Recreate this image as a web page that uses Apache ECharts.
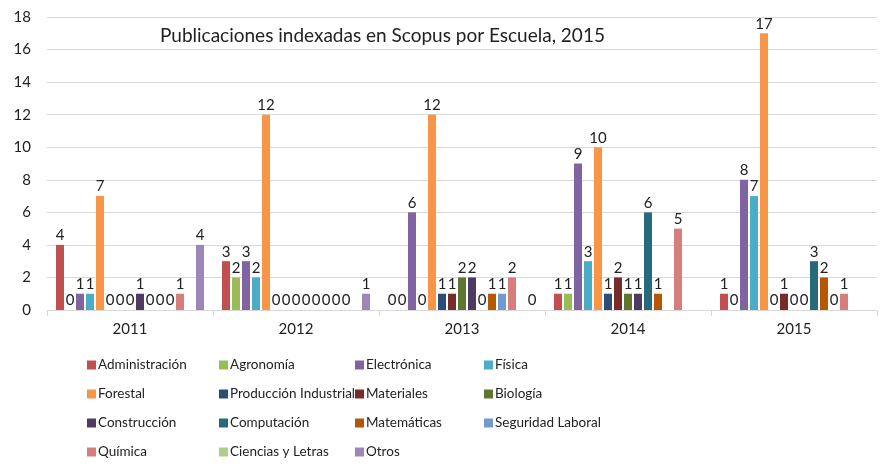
<!DOCTYPE html>
<html>
<head>
<meta charset="utf-8">
<script src="https://cdn.jsdelivr.net/npm/echarts@6/dist/echarts.min.js"></script>
<style>
  html, body { margin: 0; padding: 0; background: #fff; }
  #chart { width: 883px; height: 471px; }
</style>
</head>
<body>
<div id="chart"></div>
<script>
// años
var years = ['2011', '2012', '2013', '2014', '2015'];
var yTicks = { min: 0, max: 18, interval: 2 };

// publicaciones por escuela (null = sin dato)
var administracion  = [4, 3, 0, 1, 1];
var agronomia       = [0, 2, 0, 1, 0];
var electronica     = [1, 3, 6, 9, 8];
var fisica          = [1, 2, 0, 3, 7];
var forestal        = [7, 12, 12, 10, 17];
var produccion      = [0, 0, 1, 1, 0];
var materiales      = [0, 0, 1, 2, 1];
var biologia        = [0, 0, 2, 1, 0];
var construccion    = [1, 0, 2, 1, 0];
var computacion     = [0, 0, 0, 6, 3];
var matematicas     = [0, 0, 1, 1, 2];
var seguridad       = [0, 0, 1, null, 0];
var quimica         = [1, 0, 2, 5, 1];
var cienciasLetras  = [null, null, null, null, null];
var otros           = [4, 1, 0, null, null];

var escuelas = [
  ['Administración', administracion, '#C0504D'],
  ['Agronomía', agronomia, '#9BBB59'],
  ['Electrónica', electronica, '#8064A2'],
  ['Física', fisica, '#4BACC6'],
  ['Forestal', forestal, '#F79646'],
  ['Producción Industrial', produccion, '#2C4D75'],
  ['Materiales', materiales, '#772C2A'],
  ['Biología', biologia, '#5F7530'],
  ['Construcción', construccion, '#4D3B62'],
  ['Computación', computacion, '#276A7C'],
  ['Matemáticas', matematicas, '#B65708'],
  ['Seguridad Laboral', seguridad, '#729ACA'],
  ['Química', quimica, '#D47F7D'],
  ['Ciencias y Letras', cienciasLetras, '#B3CC86'],
  ['Otros', otros, '#9C87B8']
];

var font = 'Lato, "Open Sans", sans-serif';

var series = escuelas.map(function (e) {
  return {
    name: e[0],
    type: 'bar',
    data: e[1],
    barWidth: 8,
    barGap: '25%',
    itemStyle: { color: e[2] },
    label: {
      show: true,
      position: 'top',
      distance: 2,
      color: '#222',
      fontSize: 15,
      fontFamily: font
    }
  };
});

// leyenda en 4 columnas
var cols = [[], [], [], []];
escuelas.forEach(function (e, i) { cols[i % 4].push(e[0]); });
var colX = [87, 219, 355, 484];
var legends = cols.map(function (names, i) {
  return {
    orient: 'vertical',
    left: colX[i],
    top: 356,
    height: 115,
    padding: 0,
    data: names,
    icon: 'rect',
    itemWidth: 9,
    itemHeight: 9,
    itemGap: 11,
    textStyle: { fontSize: 13.5, color: '#222', fontFamily: font, lineHeight: 18, padding: [0, 0, 0, -3] }
  };
});

var myChart = echarts.init(document.getElementById('chart'));
myChart.setOption({
  backgroundColor: '#fff',
  animation: false,
  title: {
    text: 'Publicaciones indexadas en Scopus por Escuela, 2015',
    left: 155,
    top: 21,
    textStyle: { fontSize: 19, fontWeight: 'normal', color: '#222', fontFamily: font }
  },
  legend: legends,
  grid: { left: 47, right: 6, top: 17, bottom: 161, containLabel: false },
  xAxis: {
    type: 'category',
    data: years,
    axisLine: { lineStyle: { color: '#d9d9d9' } },
    axisTick: { show: true, length: 6, lineStyle: { color: '#d9d9d9' } },
    axisLabel: { color: '#222', fontSize: 15, fontFamily: font, margin: 12 }
  },
  yAxis: {
    type: 'value',
    min: yTicks.min,
    max: yTicks.max,
    interval: yTicks.interval,
    axisLine: { show: false },
    axisTick: { show: false },
    splitLine: { lineStyle: { color: '#d9d9d9' } },
    axisLabel: { color: '#222', fontSize: 15, fontFamily: font, margin: 16 }
  },
  series: series
});
</script>
</body>
</html>
